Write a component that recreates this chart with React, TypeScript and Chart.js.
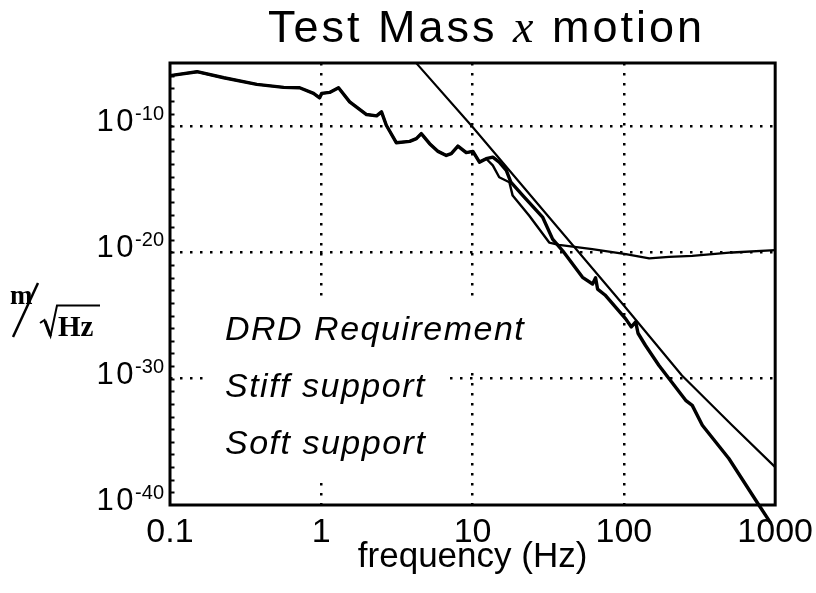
import React, { useEffect, useRef } from 'react';
import { Chart, registerables } from 'chart.js';

Chart.register(...registerables);

// ---- text ----
const TITLE_PARTS = ['Test Mass ', 'x', ' motion'];
const X_TITLE = 'frequency (Hz)';
const X_TICKS = [0.1, 1, 10, 100, 1000];
const X_TICK_LABELS = ['0.1', '1', '10', '100', '1000'];
const X_GRID = [1, 10, 100];
const Y_LABEL_EXPONENTS = [-10, -20, -30, -40];
const Y_GRID_EXPONENTS = [-10, -20, -30];
const Y_MIN_EXP = -40;
const Y_MAX_EXP = -5;
const Y_UNIT = ['m', 'Hz'];
const SERIES_LABELS = ['DRD Requirement', 'Stiff support', 'Soft support'];

// ---- data (frequency in Hz, amplitude as log10 of m/sqrt(Hz)) ----
const drdFreq = [3, 4.39, 10, 100, 242, 519, 1000];
const drdLog = [-2.9, -5.21, -10.07, -24.2, -29.74, -33.69, -37.0];

// shared low-frequency part of both support curves
const commonFreq = [0.1, 0.151, 0.227, 0.375, 0.564, 0.719, 0.889, 0.975, 1.005, 1.135, 1.3, 1.54, 1.99, 2.32, 2.5, 2.69, 3.13, 3.84, 4.25, 4.58, 5.2, 5.91, 6.7, 7.23, 8.0, 9.08, 10.05, 11.1, 12.3];
const commonLog = [-6.0, -5.69, -6.17, -6.69, -6.93, -6.96, -7.41, -7.76, -7.41, -7.33, -6.96, -8.08, -9.08, -9.19, -8.87, -9.93, -11.31, -11.21, -10.99, -10.59, -11.39, -12.0, -12.32, -12.18, -11.58, -12.1, -12.0, -12.85, -12.58];

const stiffFreq = [13.6, 15.0, 17.5, 18.4, 23.7, 32.1, 37.2, 61.8, 103, 147, 199, 283, 520, 1000];
const stiffLog = [-13.11, -14.05, -14.44, -15.5, -17.09, -19.22, -19.4, -19.74, -20.13, -20.47, -20.35, -20.27, -20.0, -19.82];

const softFreq = [13.6, 15.0, 16.7, 17.9, 21.5, 29.1, 33.8, 39.4, 53.3, 62.1, 65, 67, 75, 102.8, 112, 119.7, 124, 139, 170.6, 256, 283, 330, 494, 780, 930];
const softLog = [-12.45, -12.85, -13.51, -14.44, -15.5, -17.23, -18.95, -19.87, -21.97, -22.5, -22.0, -22.9, -23.37, -25.26, -25.9, -25.5, -26.4, -27.37, -28.95, -31.71, -32.11, -33.69, -36.32, -40.0, -41.4];

const toPoints = (f: number[], l: number[]) => f.map((x, i) => ({ x, y: Math.pow(10, l[i]) }));

const SANS = '"Liberation Sans", Arial, Helvetica, sans-serif';
const SERIF = '"Liberation Serif", "Times New Roman", serif';

const decorPlugin = {
  id: 'decor',
  beforeDraw(chart: any) {
    const { ctx, width, height } = chart;
    ctx.save();
    ctx.fillStyle = '#fff';
    ctx.fillRect(0, 0, width, height);
    ctx.restore();
  },
  beforeDatasetsDraw(chart: any) {
    // legend: italic labels on white boxes inside the plot
    const { ctx, chartArea } = chart;
    const labels = chart.data.datasets.map((d: any) => d.label);
    ctx.save();
    ctx.font = 'italic 34px ' + SANS;
    (ctx as any).letterSpacing = '1.5px';
    const x0 = chartArea.left + 55;
    const base0 = chartArea.top + 277;
    const step = 57;
    labels.forEach((t: string, i: number) => {
      const w = ctx.measureText(t).width;
      const b = base0 + i * step;
      ctx.fillStyle = '#fff';
      ctx.fillRect(x0 - 22, b - 43, w + 42, 69);
    });
    ctx.fillStyle = '#000';
    ctx.textBaseline = 'alphabetic';
    labels.forEach((t: string, i: number) => {
      ctx.fillText(t, x0, base0 + i * step);
    });
    ctx.restore();
  },
  afterDatasetsDraw(chart: any) {
    const { ctx, chartArea } = chart;
    const { left, right, top, bottom } = chartArea;
    const yScale = chart.scales.y;
    ctx.save();
    // frame
    ctx.strokeStyle = '#000';
    ctx.lineWidth = 3;
    ctx.strokeRect(left, top, right - left, bottom - top);
    // inner minor ticks on left axis, one per decade
    ctx.lineWidth = 2;
    for (let e = Y_MIN_EXP + 1; e < Y_MAX_EXP; e++) {
      const y = Math.round(yScale.getPixelForValue(Math.pow(10, e))) + 0.5;
      ctx.beginPath();
      ctx.moveTo(left, y);
      ctx.lineTo(left + 4.5, y);
      ctx.stroke();
    }
    // y tick labels 10^n
    ctx.fillStyle = '#000';
    ctx.textBaseline = 'alphabetic';
    Y_LABEL_EXPONENTS.forEach((e) => {
      const y = yScale.getPixelForValue(Math.pow(10, e));
      const base = y + 5;
      ctx.font = '20px ' + SANS;
      (ctx as any).letterSpacing = '0px';
      const sup = String(e);
      const supW = ctx.measureText(sup).width;
      const xEnd = left - 6;
      ctx.fillText(sup, xEnd - supW, base - 11);
      ctx.font = '31px ' + SANS;
      (ctx as any).letterSpacing = '2.5px';
      const mainW = ctx.measureText('10').width;
      ctx.fillText('10', xEnd - supW - mainW + 1, base);
    });
    (ctx as any).letterSpacing = '0px';
    // y axis unit: m / sqrt(Hz)
    ctx.font = 'bold 27px ' + SERIF;
    ctx.fillText(Y_UNIT[0], 10, 304);
    ctx.lineWidth = 2.5;
    ctx.beginPath();
    ctx.moveTo(13, 337);
    ctx.lineTo(38, 283);
    ctx.stroke();
    ctx.font = 'bold 29px ' + SERIF;
    ctx.fillText(Y_UNIT[1], 58, 336);
    ctx.lineWidth = 2;
    ctx.lineJoin = 'miter';
    ctx.beginPath();
    ctx.moveTo(40, 323);
    ctx.lineTo(44.5, 320);
    ctx.lineTo(50.5, 336);
    ctx.lineTo(57, 305.5);
    ctx.lineTo(100, 305.5);
    ctx.stroke();
    ctx.lineWidth = 3;
    ctx.beginPath();
    ctx.moveTo(45, 321);
    ctx.lineTo(50.5, 336);
    ctx.stroke();
    // title with italic serif x
    const cx = (left + right) / 2 + 14;
    const tb = 42;
    ctx.font = '45px ' + SANS;
    (ctx as any).letterSpacing = '3px';
    const w1 = ctx.measureText(TITLE_PARTS[0]).width;
    const w3 = ctx.measureText(TITLE_PARTS[2]).width;
    ctx.font = 'italic 46px ' + SERIF;
    const w2 = ctx.measureText(TITLE_PARTS[1]).width;
    let tx = cx - (w1 + w2 + w3) / 2;
    ctx.font = '45px ' + SANS;
    ctx.fillText(TITLE_PARTS[0], tx, tb);
    tx += w1;
    ctx.font = 'italic 46px ' + SERIF;
    ctx.fillText(TITLE_PARTS[1], tx, tb);
    tx += w2;
    ctx.font = '45px ' + SANS;
    ctx.fillText(TITLE_PARTS[2], tx, tb);
    ctx.restore();
  },
};

export default function App() {
  const canvasRef = useRef<HTMLCanvasElement | null>(null);

  useEffect(() => {
    document.body.style.margin = '0';
    const canvas = canvasRef.current;
    if (!canvas) return;
    const lineBase = { borderColor: '#000', pointRadius: 0, tension: 0, fill: false, borderJoinStyle: 'round', borderCapStyle: 'round' };
    const chart = new Chart(canvas, {
      type: 'line',
      data: {
        datasets: [
          { ...lineBase, label: SERIES_LABELS[0], data: toPoints(drdFreq, drdLog), borderWidth: 2.2 },
          {
            ...lineBase,
            label: SERIES_LABELS[1],
            data: toPoints([...commonFreq, ...stiffFreq], [...commonLog, ...stiffLog]),
            borderWidth: 2.4,
          },
          {
            ...lineBase,
            label: SERIES_LABELS[2],
            data: toPoints([...commonFreq, ...softFreq], [...commonLog, ...softLog]),
            borderWidth: 3.4,
            clip: { left: 0, top: 0, right: 0, bottom: 22 },
          },
        ] as any,
      },
      options: {
        animation: false,
        responsive: false,
        devicePixelRatio: 1,
        layout: { padding: { left: 170, right: 33, top: 63, bottom: 28 } },
        plugins: { legend: { display: false }, tooltip: { enabled: false }, title: { display: false } },
        scales: {
          x: {
            type: 'logarithmic',
            min: 0.1,
            max: 1000,
            afterBuildTicks: (scale: any) => {
              scale.ticks = X_TICKS.map((v) => ({ value: v }));
            },
            ticks: {
              autoSkip: false,
              maxRotation: 0,
              color: '#000',
              padding: 3,
              font: { family: SANS, size: 34, lineHeight: 1 },
              callback: (_v: any, i: number) => X_TICK_LABELS[i],
            },
            grid: {
              drawTicks: true,
              tickLength: 8,
              tickColor: 'rgba(0,0,0,0)',
              lineWidth: 2.5,
              color: (c: any) => (c.tick && X_GRID.includes(c.tick.value) ? '#000' : 'rgba(0,0,0,0)'),
            },
            border: { display: false, dash: [2.5, 7.5] },
            title: {
              display: true,
              text: X_TITLE,
              color: '#000',
              font: { family: SANS, size: 35, lineHeight: 15 / 35 },
              padding: { top: -3, bottom: 0 },
            },
          },
          y: {
            type: 'logarithmic',
            min: Math.pow(10, Y_MIN_EXP),
            max: Math.pow(10, Y_MAX_EXP),
            afterBuildTicks: (scale: any) => {
              const t: any[] = [];
              for (let e = Y_MIN_EXP; e <= Y_MAX_EXP; e++) t.push({ value: Math.pow(10, e) });
              scale.ticks = t;
            },
            ticks: { display: false },
            grid: {
              drawTicks: false,
              lineWidth: 2.5,
              color: (c: any) => {
                if (!c.tick) return 'rgba(0,0,0,0)';
                const e = Math.round(Math.log10(c.tick.value));
                return Y_GRID_EXPONENTS.includes(e) ? '#000' : 'rgba(0,0,0,0)';
              },
            },
            border: { display: false, dash: [2.5, 7.5] },
          },
        },
      } as any,
      plugins: [decorPlugin],
    });
    return () => chart.destroy();
  }, []);

  return (
    <div style={{ position: 'absolute', left: 0, top: 0, width: 816, height: 593 }}>
      <canvas ref={canvasRef} width={816} height={593} style={{ display: 'block' }} />
    </div>
  );
}
